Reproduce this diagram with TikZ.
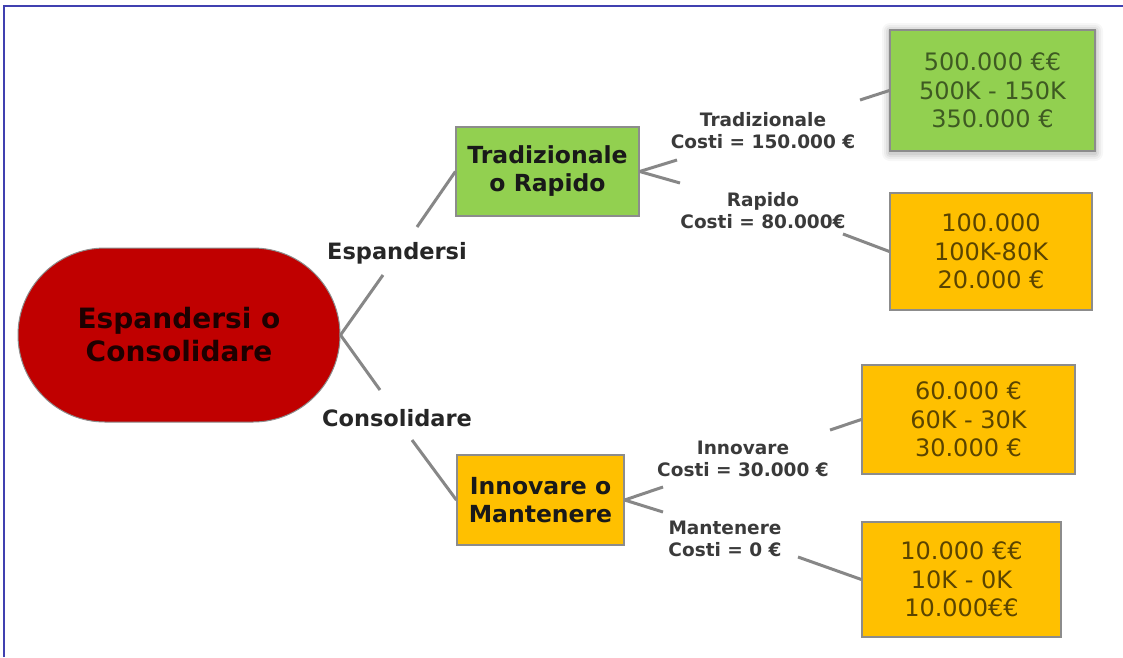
\documentclass[tikz,border=0pt]{standalone}
\usepackage{fontspec}
\setmainfont{DejaVu Sans}
\definecolor{frameblue}{HTML}{4040B0}
\definecolor{rootred}{HTML}{C00000}
\definecolor{boxgreen}{HTML}{92D050}
\definecolor{boxorange}{HTML}{FFC000}
\definecolor{edgegray}{HTML}{878787}
\definecolor{bordergray}{HTML}{8C8C8C}
\definecolor{labgray}{HTML}{3A3A3A}
\definecolor{greentext}{HTML}{3E5A22}
\definecolor{orangetext}{HTML}{5A4400}
\tikzset{
  conn/.style={draw=edgegray, line width=3pt},
  rootnode/.style={draw=bordergray, line width=1pt, fill=rootred, rounded corners=87pt,
    minimum width=322pt, minimum height=174pt, inner sep=0pt, align=center,
    text=black!85!rootred, font=\fontsize{28}{33}\selectfont\bfseries},
  decbox/.style={draw=bordergray, line width=1.2pt, inner sep=0pt, align=center,
    font=\fontsize{23.5}{28}\selectfont\bfseries, text=black!90},
  valbox/.style={draw=bordergray, line width=1.2pt, inner sep=0pt, align=center,
    font=\fontsize{24}{28.5}\selectfont},
  branchlab/.style={inner sep=0pt, align=center, text=black!85,
    font=\fontsize{22.5}{26}\selectfont\bfseries},
  costlab/.style={inner sep=0pt, align=center, text=labgray,
    font=\fontsize{18.5}{22}\selectfont\bfseries},
  softshadow/.style={fill=black, opacity=#1, draw=none},
}
\begin{document}
\begin{tikzpicture}[x=1pt,y=-1pt]
\useasboundingbox (0,0) rectangle (1123,657);
\fill[white] (0,0) rectangle (1123,657);
\draw[frameblue, line width=2pt] (4,657) -- (4,6) -- (1123,6);

% soft shadow behind the green box
\foreach \d/\o in {8/0.03,6/0.04,4/0.05,2/0.06}{
  \fill[softshadow=\o, rounded corners=\d pt] (890-\d,30-\d+1) rectangle (1095+\d,151+\d+2);
}

% nodes
\node[rootnode] (root) at (179,335) {Espandersi o\\Consolidare};
\node[decbox, fill=boxgreen, minimum width=183pt, minimum height=89pt] (trad) at (547.5,171.5) {Tradizionale\\o Rapido};
\node[decbox, fill=boxorange, minimum width=167pt, minimum height=90pt] (innov) at (540.5,500) {Innovare o\\Mantenere};

\node[valbox, fill=boxgreen, text=greentext, minimum width=205pt, minimum height=121pt] (g1) at (992.5,90.5) {500.000 €€\\500K - 150K\\350.000 €};
\node[valbox, fill=boxorange, text=orangetext, minimum width=202pt, minimum height=117pt] (o1) at (991,251.5) {100.000\\100K-80K\\20.000 €};
\node[valbox, fill=boxorange, text=orangetext, minimum width=213pt, minimum height=109pt] (o2) at (968.5,419.5) {60.000 €\\60K - 30K\\30.000 €};
\node[valbox, fill=boxorange, text=orangetext, minimum width=199pt, minimum height=115pt] (o3) at (961.5,579.5) {10.000 €€\\10K - 0K\\10.000€€};

% labels
\node[branchlab] (lesp) at (397,253) {Espandersi};
\node[branchlab] (lcons) at (397,418) {Consolidare};
\node[costlab] (ltrad) at (763,131) {Tradizionale\\Costi = 150.000 €};
\node[costlab] (lrap) at (763,211) {Rapido\\Costi = 80.000€};
\node[costlab] (linn) at (743,459) {Innovare\\Costi = 30.000 €};
\node[costlab] (lman) at (725,539) {Mantenere\\Costi = 0 €};

% connector break points
\coordinate (c1) at (383,275);
\coordinate (c2) at (417,227);
\coordinate (c3) at (380,390);
\coordinate (c4) at (412,440);
\coordinate (c5) at (677,160);
\coordinate (c6) at (680,183);
\coordinate (c7) at (860,100);
\coordinate (c8) at (843,234);
\coordinate (c9) at (663,487);
\coordinate (c10) at (663,512);
\coordinate (c11) at (830,430);
\coordinate (c12) at (798,557);

% connectors
\draw[conn] (root.east) -- (c1);
\draw[conn] (c2) -- (trad.west);
\draw[conn] (root.east) -- (c3);
\draw[conn] (c4) -- (innov.west);
\draw[conn] (trad.east) -- (c5);
\draw[conn] (trad.east) -- (c6);
\draw[conn] (c7) -- (g1.west);
\draw[conn] (c8) -- (o1.west);
\draw[conn] (innov.east) -- (c9);
\draw[conn] (innov.east) -- (c10);
\draw[conn] (c11) -- (o2.west);
\draw[conn] (c12) -- (o3.west);
\end{tikzpicture}
\end{document}
